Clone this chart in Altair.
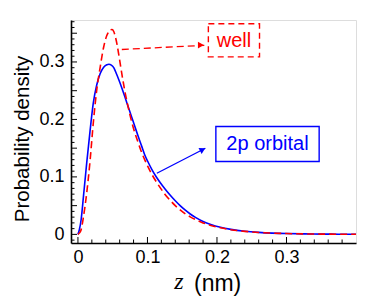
import altair as alt
import pandas as pd

# ---- data ----
orbital_z = [0.0, 0.002, 0.0045, 0.008, 0.0125, 0.0175, 0.022, 0.027, 0.032, 0.037, 0.0415,
             0.0445, 0.048, 0.0515, 0.0555, 0.0585, 0.0625, 0.067, 0.072, 0.077, 0.0815,
             0.0865, 0.0915, 0.096, 0.101, 0.107, 0.113, 0.119, 0.125, 0.1325, 0.14, 0.147,
             0.154, 0.1615, 0.169, 0.18, 0.19, 0.205, 0.22, 0.24, 0.26, 0.28, 0.30, 0.325,
             0.35, 0.375, 0.40]
orbital_p = [0.0, 0.008, 0.025, 0.067, 0.123, 0.181, 0.228, 0.260, 0.280, 0.291, 0.295,
             0.296, 0.2945, 0.290, 0.279, 0.270, 0.257, 0.241, 0.223, 0.205, 0.189,
             0.171, 0.154, 0.1385, 0.1255, 0.1115, 0.0995, 0.089, 0.0795, 0.0685, 0.0585, 0.050,
             0.0425, 0.0355, 0.0295, 0.0225, 0.0178, 0.0123, 0.0087, 0.0055, 0.0035, 0.0022,
             0.0014, 0.0008, 0.0005, 0.0003, 0.0002]

well_z = [0.0, 0.004, 0.008, 0.0125, 0.0175, 0.022, 0.027, 0.032, 0.037, 0.0415, 0.044,
          0.0465, 0.049, 0.0515, 0.054, 0.056, 0.058, 0.060, 0.0625, 0.065, 0.0675, 0.070,
          0.0725, 0.075, 0.0775, 0.0815, 0.0865, 0.0915, 0.096, 0.101, 0.107, 0.113, 0.119,
          0.125, 0.1325, 0.14, 0.147, 0.154, 0.1615, 0.169, 0.18, 0.19, 0.205, 0.22, 0.24,
          0.26, 0.28, 0.30, 0.325, 0.35, 0.375, 0.40]
well_p = [0.0, 0.006, 0.031, 0.071, 0.129, 0.193, 0.251, 0.291, 0.326, 0.346, 0.352,
          0.356, 0.3565, 0.353, 0.343, 0.332, 0.318, 0.303, 0.284, 0.266, 0.249, 0.234,
          0.220, 0.207, 0.195, 0.178, 0.160, 0.143, 0.130, 0.117, 0.103, 0.091, 0.080,
          0.070, 0.0595, 0.050, 0.0425, 0.036, 0.0305, 0.0258, 0.020, 0.016, 0.0115, 0.0082,
          0.0053, 0.0034, 0.0022, 0.0014, 0.0008, 0.0005, 0.0003, 0.0002]

x_major = [0, 0.1, 0.2, 0.3]
x_minor = [0.02, 0.04, 0.06, 0.08, 0.12, 0.14, 0.16, 0.18, 0.22, 0.24, 0.26, 0.28,
           0.32, 0.34, 0.36, 0.38]
y_labels = [0, 0.1, 0.2, 0.3]
y_major = [0, 0.05, 0.1, 0.15, 0.2, 0.25, 0.3, 0.35]
y_minor = [-0.01, 0.01, 0.02, 0.03, 0.04, 0.06, 0.07, 0.08, 0.09, 0.11, 0.12, 0.13, 0.14,
           0.16, 0.17, 0.18, 0.19, 0.21, 0.22, 0.23, 0.24, 0.26, 0.27, 0.28, 0.29,
           0.31, 0.32, 0.33, 0.34, 0.36, 0.37]

# annotations (data coordinates)
well_label = ["well"]
well_label_pos = [0.2244, 0.3368]
well_box = [0.1876, 0.2612, 0.3089, 0.3664]
well_arrow_z = [0.0631, 0.1818]
well_arrow_p = [0.3217, 0.3290]
well_head = [0.1768, 0.3294]

orbital_label = ["2p orbital"]
orbital_label_pos = [0.2727, 0.1573]
orbital_box = [0.1984, 0.3470, 0.1268, 0.1878]
orbital_arrow_z = [0.1135, 0.1833]
orbital_arrow_p = [0.1063, 0.1498]
orbital_head = [0.1794, 0.1474]

FONT = "Liberation Sans"
BLUE = "#0000ff"
RED = "#ff0000"

xs = alt.Scale(domain=[-0.01, 0.40], nice=False, zero=False)
ys = alt.Scale(domain=[-0.015, 0.373], nice=False, zero=False)

xaxis = alt.Axis(values=x_major, format=".1~f", ticks=False, tickSize=0, grid=False,
                 domainColor="black", domainWidth=1.6, labelFont=FONT, labelFontSize=18,
                 labelColor="black", labelPadding=5, title=None)
yaxis = alt.Axis(values=y_labels, format=".1~f", ticks=False, tickSize=0, grid=False,
                 domainColor="black", domainWidth=1.6, labelFont=FONT, labelFontSize=18,
                 labelColor="black", labelPadding=7, title="Probability density",
                 titleFont=FONT, titleFontSize=20.5, titleFontWeight="normal",
                 titleColor="black", titleX=-49, titleY=118.5, titleAlign="center",
                 titleBaseline="middle", titleAngle=270)

X = alt.X("z:Q", scale=xs, axis=xaxis)
Y = alt.Y("p:Q", scale=ys, axis=yaxis)

orbital_df = pd.DataFrame({"z": orbital_z, "p": orbital_p})
well_df = pd.DataFrame({"z": well_z, "p": well_p})

blue_line = alt.Chart(orbital_df).mark_line(color=BLUE, strokeWidth=1.6, interpolate="monotone").encode(x=X, y=Y)
red_line = alt.Chart(well_df).mark_line(color=RED, strokeWidth=1.6, strokeDash=[7, 4],
                                        interpolate="monotone").encode(x=X, y=Y)

# ticks (inward)
yt_major = alt.Chart(pd.DataFrame({"p": y_major})).mark_rule(color="black", strokeWidth=1).encode(
    y=Y, x=alt.value(0), x2=alt.value(6))
yt_minor = alt.Chart(pd.DataFrame({"p": y_minor})).mark_rule(color="black", strokeWidth=1).encode(
    y=Y, x=alt.value(0), x2=alt.value(3.5))
xt_major = alt.Chart(pd.DataFrame({"z": x_major})).mark_rule(color="black", strokeWidth=1).encode(
    x=X, y=alt.value(223), y2=alt.value(217))
xt_minor = alt.Chart(pd.DataFrame({"z": x_minor})).mark_rule(color="black", strokeWidth=1).encode(
    x=X, y=alt.value(223), y2=alt.value(219.5))

# annotations
well_arrow = alt.Chart(pd.DataFrame({"z": well_arrow_z, "p": well_arrow_p})).mark_line(
    color=RED, strokeWidth=1.3, strokeDash=[7, 4]).encode(x=X, y=Y)
well_tip = alt.Chart(pd.DataFrame({"z": [well_head[0]], "p": [well_head[1]]})).mark_point(
    shape="triangle-right", filled=True, color=RED, size=45, opacity=1).encode(x=X, y=Y)
orb_arrow = alt.Chart(pd.DataFrame({"z": orbital_arrow_z, "p": orbital_arrow_p})).mark_line(
    color=BLUE, strokeWidth=1.3).encode(x=X, y=Y)
orb_tip = alt.Chart(pd.DataFrame({"z": [orbital_head[0]], "p": [orbital_head[1]]})).mark_point(
    shape="triangle-right", filled=True, color=BLUE, size=45, opacity=1, angle=332).encode(x=X, y=Y)

well_rect = alt.Chart(pd.DataFrame({"z": [well_box[0]], "z2": [well_box[1]],
                                    "p": [well_box[2]], "p2": [well_box[3]]})).mark_rect(
    fillOpacity=0, stroke=RED, strokeWidth=1.4, strokeDash=[6, 4]).encode(
    x=X, x2="z2:Q", y=Y, y2="p2:Q")
orb_rect = alt.Chart(pd.DataFrame({"z": [orbital_box[0]], "z2": [orbital_box[1]],
                                   "p": [orbital_box[2]], "p2": [orbital_box[3]]})).mark_rect(
    fillOpacity=0, stroke=BLUE, strokeWidth=1.4).encode(
    x=X, x2="z2:Q", y=Y, y2="p2:Q")

well_text = alt.Chart(pd.DataFrame({"z": [well_label_pos[0]], "p": [well_label_pos[1]],
                                    "t": well_label})).mark_text(
    font=FONT, fontSize=20, color=RED, align="center", baseline="middle").encode(x=X, y=Y, text="t:N")
orb_text = alt.Chart(pd.DataFrame({"z": [orbital_label_pos[0]], "p": [orbital_label_pos[1]],
                                   "t": orbital_label})).mark_text(
    font=FONT, fontSize=20, color=BLUE, align="center", baseline="middle").encode(x=X, y=Y, text="t:N")

# x-axis title: italic z + (nm)
xt_z = alt.Chart(pd.DataFrame({"t": ["z"]})).mark_text(
    font="Liberation Serif", fontStyle="italic", fontSize=24, color="black",
    align="center", baseline="middle").encode(x=alt.value(108), y=alt.value(262), text="t:N")
xt_nm = alt.Chart(pd.DataFrame({"t": ["(nm)"]})).mark_text(
    font=FONT, fontSize=23, color="black", align="left", baseline="middle").encode(
    x=alt.value(123), y=alt.value(264), text="t:N")

chart = alt.layer(
    yt_major, yt_minor, xt_major, xt_minor,
    blue_line, red_line,
    well_arrow, well_tip, orb_arrow, orb_tip,
    well_rect, orb_rect, well_text, orb_text,
    xt_z, xt_nm,
).properties(
    width=285, height=223,
    autosize=alt.AutoSizeParams(type="none"),
    padding={"left": 63, "top": 12, "right": 10, "bottom": 54},
).configure_view(stroke=None).configure(background="white")

chart.save("out.html", embed_options={"renderer": "svg", "actions": False})
